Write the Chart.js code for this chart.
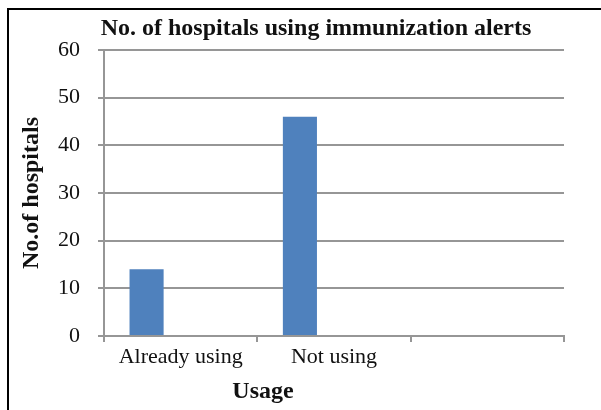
<!DOCTYPE html>
<html>
<head>
<meta charset="utf-8">
<script src="https://cdn.jsdelivr.net/npm/chart.js@4.4.1/dist/chart.umd.min.js"></script>
<style>
    html, body { margin: 0; padding: 0; background: #fff; overflow: hidden; }
    #marco {
        position: absolute; left: 7px; top: 8px;
        width: 700px; height: 500px;
        border: 2px solid #000;
    }
    #lienzo { position: absolute; left: 0; top: 0; }
</style>
</head>
<body>
<div id="marco"></div>
<canvas id="lienzo" width="601" height="410"></canvas>
<script>
// Datos de la grafica
const titulo = 'No. of hospitals using immunization alerts';
const tituloX = 'Usage';
const tituloY = 'No.of hospitals';
const categorias = ['Already using', 'Not using', ''];
const serie1 = [14, 46, null];
const serie2 = [null, null, null];
const serie3 = [null, null, null];
const ejeYMin = 0;
const ejeYMax = 60;
const ejeYPaso = 10;

const fuente = '"Liberation Serif", "Times New Roman", serif';

// Dibuja el titulo principal y el del eje X (desplazados como en el original)
const titulos = {
    id: 'titulos',
    afterDraw(chart) {
        const ctx = chart.ctx;
        const area = chart.chartArea;
        ctx.save();
        ctx.fillStyle = '#111';
        ctx.font = 'bold 24px ' + fuente;
        ctx.textAlign = 'center';
        ctx.textBaseline = 'alphabetic';
        ctx.fillText(titulo, area.left + 212, area.top - 15);
        ctx.fillText(tituloX, area.left + 159, area.bottom + 62);
        ctx.restore();
    }
};

const ctx = document.getElementById('lienzo').getContext('2d');

new Chart(ctx, {
    type: 'bar',
    data: {
        labels: categorias,
        datasets: [
            { data: serie1, backgroundColor: '#4F81BD', borderWidth: 0 },
            { data: serie2, backgroundColor: '#C0504D', borderWidth: 0 },
            { data: serie3, backgroundColor: '#9BBB59', borderWidth: 0 }
        ]
    },
    options: {
        responsive: false,
        animation: false,
        categoryPercentage: 0.667,
        barPercentage: 1,
        layout: { padding: { left: 10, right: 37, top: 50, bottom: 0 } },
        plugins: {
            legend: { display: false },
            tooltip: { enabled: false },
            title: { display: false }
        },
        scales: {
            x: {
                grid: {
                    offset: true,
                    drawOnChartArea: false,
                    drawTicks: true,
                    tickLength: 6,
                    color: '#969696',
                    lineWidth: 2
                },
                border: { color: '#969696', width: 2 },
                ticks: {
                    color: '#111',
                    font: { family: fuente, size: 22 },
                    padding: 2,
                    maxRotation: 0,
                    autoSkip: false
                },
                afterFit(scale) { scale.height = 74; }
            },
            y: {
                min: ejeYMin,
                max: ejeYMax,
                grid: {
                    color: '#969696',
                    lineWidth: 2,
                    tickLength: 6
                },
                border: { color: '#969696', width: 2 },
                ticks: {
                    stepSize: ejeYPaso,
                    color: '#111',
                    font: { family: fuente, size: 22 },
                    padding: 18
                },
                title: {
                    display: true,
                    text: tituloY,
                    color: '#111',
                    font: { family: fuente, size: 24, weight: 'bold', lineHeight: 1 },
                    padding: { top: 10, bottom: 0 }
                },
                afterFit(scale) { scale.width = 94; }
            }
        }
    },
    plugins: [titulos]
});
</script>
</body>
</html>
